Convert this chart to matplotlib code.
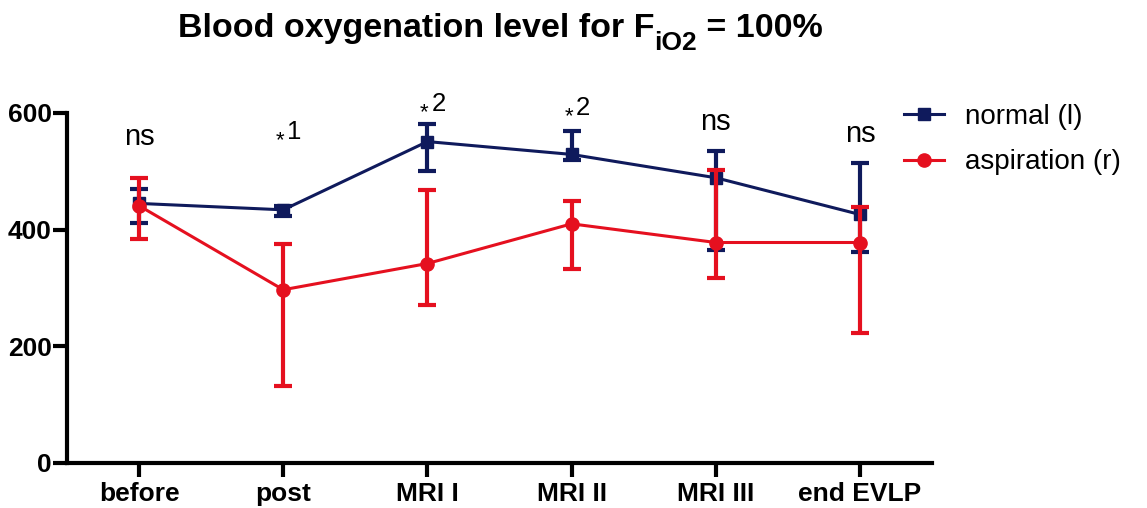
import numpy as np
import matplotlib.pyplot as plt
from matplotlib.lines import Line2D

plt.rcParams['font.family'] = ['Liberation Sans', 'DejaVu Sans']

# --- 數據 ---
categories = ['before', 'post', 'MRI I', 'MRI II', 'MRI III', 'end EVLP']
normal_mean = [445, 434, 551, 529, 489, 426]
normal_low = [411, 424, 501, 519, 365, 362]
normal_high = [469, 441, 581, 569, 535, 515]
asp_mean = [441, 297, 342, 410, 378, 378]
asp_low = [384, 132, 271, 332, 318, 223]
asp_high = [488, 375, 468, 449, 503, 438]
sig_labels = ['ns', '1', '2', '2', 'ns', 'ns']
sig_y = [545, 555, 603, 597, 571, 551]

BLUE = '#0f1a5c'
RED = '#e5101f'

W, H = 1147, 508
fig = plt.figure(figsize=(W / 100, H / 100), dpi=100)
ax = fig.add_axes([67 / W, 1 - 463 / H, 865 / W, 350 / H])

x = np.arange(len(categories))


def 畫誤差線(mean, low, high, color, marker, ms, z):
    mean = np.array(mean)
    yerr = [mean - np.array(low), np.array(high) - mean]
    ax.errorbar(x, mean, yerr=yerr, color=color, marker=marker, ms=ms,
                lw=2.2, elinewidth=3, capsize=6.5, capthick=3,
                zorder=z, clip_on=False)


畫誤差線(normal_mean, normal_low, normal_high, BLUE, 's', 8.5, 3)
畫誤差線(asp_mean, asp_low, asp_high, RED, 'o', 9.5, 4)

ax.set_xlim(-0.5, 5.5)
ax.set_ylim(0, 600)
ax.set_yticks([0, 200, 400, 600])
ax.set_xticks(x)
ax.set_xticklabels(categories)
for lab in ax.get_xticklabels() + ax.get_yticklabels():
    lab.set_fontweight('bold')
    lab.set_fontsize(19)

for s in ['top', 'right']:
    ax.spines[s].set_visible(False)
for s in ['left', 'bottom']:
    ax.spines[s].set_linewidth(3)
ax.tick_params(axis='both', width=3, length=10)
ax.tick_params(axis='y', pad=1)
ax.tick_params(axis='x', pad=4)

# 顯著性標記
for i, (lab, y) in enumerate(zip(sig_labels, sig_y)):
    if lab == 'ns':
        ax.text(i, y, 'ns', ha='center', va='baseline', fontsize=21, clip_on=False)
    else:
        ax.annotate('*', (i, y), xytext=(1, -5), textcoords='offset points',
                    ha='right', va='baseline', fontsize=16, annotation_clip=False)
        ax.annotate(lab, (i, y), xytext=(3, 0), textcoords='offset points',
                    ha='left', va='baseline', fontsize=18.5, annotation_clip=False)

handles = [
    Line2D([], [], color=BLUE, marker='s', ms=8.5, lw=2.2),
    Line2D([], [], color=RED, marker='o', ms=9.5, lw=2.2),
]
ax.legend(handles, ['normal (l)', 'aspiration (r)'], loc='upper left',
          bbox_to_anchor=(904 / W, 1 - 104 / H),
          bbox_transform=fig.transFigure, frameon=False, fontsize=20,
          borderpad=0, borderaxespad=0, handlelength=1.45,
          handletextpad=0.75, labelspacing=0.7)

# 標題：手動拼接下標
parts = [('Blood oxygenation level for F', 24.5, 0),
         ('iO2', 19, -13),
         (' = 100%', 24.5, 0)]
renderer = fig.canvas.get_renderer()
objs = []
for s, size, dy in parts:
    t = fig.text(0, 0, s, fontsize=size, fontweight='bold', va='baseline', ha='left')
    objs.append((t, t.get_window_extent(renderer).width, dy))
total = sum(w for _, w, _ in objs)
cx = 500 - total / 2
for t, w, dy in objs:
    t.set_position((cx / W, (H - 37 + dy) / H))
    cx += w

fig.savefig('out.png', dpi=100)
